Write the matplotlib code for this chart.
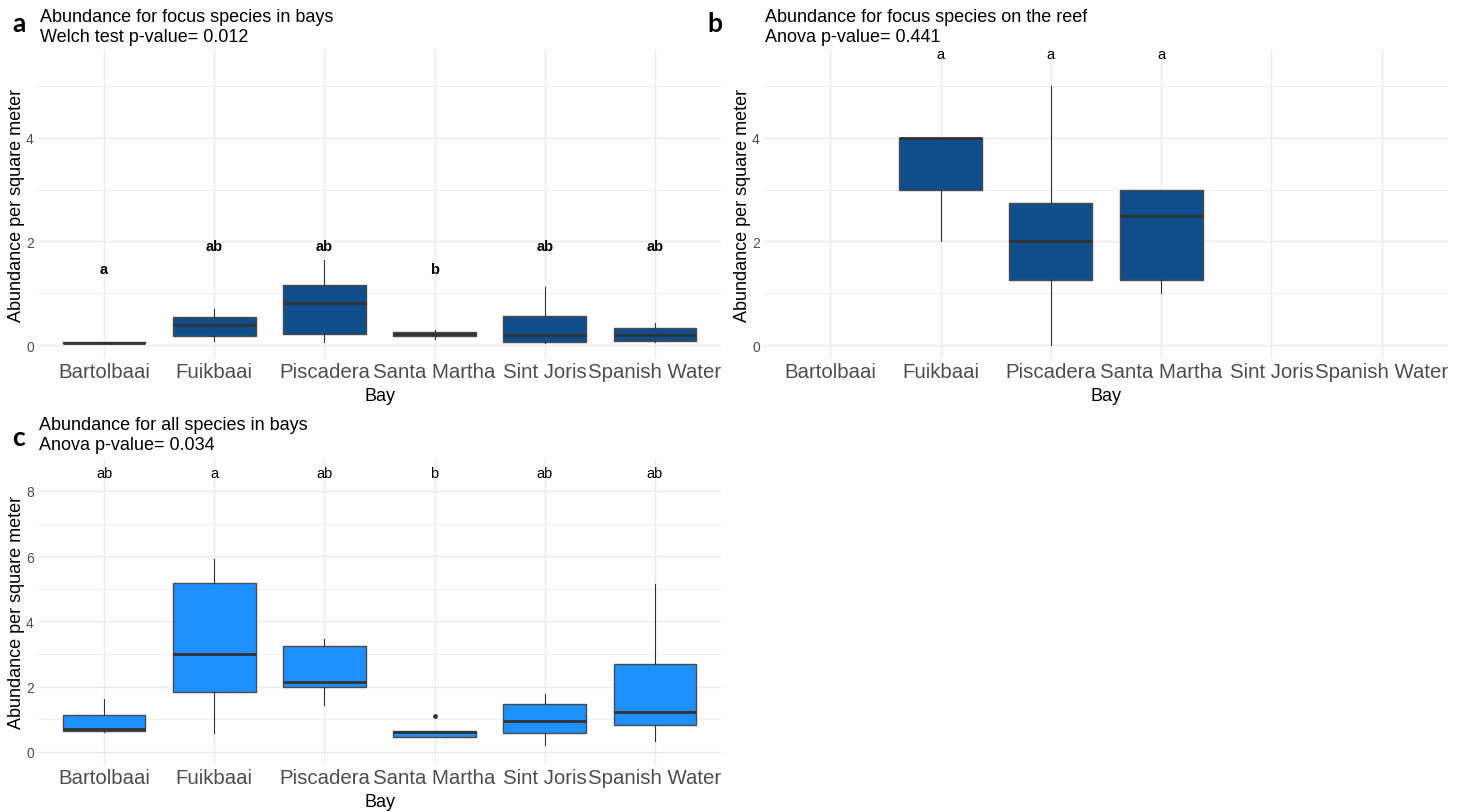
# plot.py
# Abundance boxplots per bay (three panels, ggplot-like look)

import matplotlib
matplotlib.use('Agg')
import matplotlib.pyplot as plt

plt.rcParams['font.family'] = ['Liberation Sans', 'DejaVu Sans']

W, H = 1466, 812

bays = ['Bartolbaai', 'Fuikbaai', 'Piscadera', 'Santa Martha', 'Sint Joris', 'Spanish Water']

# panel a: focus species in bays
a_q1 = [0.03, 0.17, 0.21, 0.17, 0.05, 0.08]
a_med = [0.04, 0.39, 0.81, 0.21, 0.20, 0.20]
a_q3 = [0.05, 0.54, 1.16, 0.25, 0.57, 0.32]
a_lo = [0.03, 0.07, 0.05, 0.12, 0.03, 0.05]
a_hi = [0.05, 0.70, 1.64, 0.29, 1.13, 0.42]
a_letters = ['a', 'ab', 'ab', 'b', 'ab', 'ab']
a_letter_y = [1.47, 1.92, 1.92, 1.47, 1.92, 1.92]

# panel b: focus species on the reef (only three bays sampled)
b_bays = ['Fuikbaai', 'Piscadera', 'Santa Martha']
b_q1 = [3.0, 1.25, 1.25]
b_med = [4.0, 2.0, 2.5]
b_q3 = [4.0, 2.75, 3.0]
b_lo = [2.0, 0.0, 1.0]
b_hi = [4.0, 5.0, 3.0]
b_letters = ['a', 'a', 'a']
b_letter_y = [5.62, 5.62, 5.62]

# panel c: all species in bays
c_q1 = [0.63, 1.84, 2.00, 0.47, 0.58, 0.83]
c_med = [0.72, 2.99, 2.16, 0.60, 0.96, 1.24]
c_q3 = [1.14, 5.17, 3.25, 0.64, 1.47, 2.70]
c_lo = [0.60, 0.57, 1.44, 0.47, 0.22, 0.33]
c_hi = [1.63, 5.90, 3.46, 0.64, 1.78, 5.15]
c_out = [[], [], [], [1.09], [], []]
c_letters = ['ab', 'a', 'ab', 'b', 'ab', 'ab']
c_letter_y = [8.55] * 6


def px_axes(left, top, right, bottom):
    return [left / W, 1 - bottom / H, (right - left) / W, (bottom - top) / H]


def draw_panel(ax, names, q1, med, q3, lo, hi, fill, ylim, major, minor,
               letters, letter_y, bold, outliers=None):
    pos = [bays.index(n) + 1 for n in names]
    stats = []
    for i in range(len(names)):
        stats.append({'med': med[i], 'q1': q1[i], 'q3': q3[i],
                      'whislo': lo[i], 'whishi': hi[i],
                      'fliers': outliers[i] if outliers else []})
    ax.bxp(stats, positions=pos, widths=0.75, patch_artist=True, showcaps=False,
           boxprops=dict(facecolor=fill, edgecolor='#4a4a4a', linewidth=1.0),
           medianprops=dict(color='#333333', linewidth=2.0),
           whiskerprops=dict(color='#333333', linewidth=0.8),
           flierprops=dict(marker='o', markersize=2.5, markerfacecolor='#333333',
                           markeredgecolor='#333333'),
           zorder=3)
    for p, t, y in zip(pos, letters, letter_y):
        ax.text(p, y, t, ha='center', va='center', fontsize=10.5,
                fontweight='bold' if bold else 'normal', color='black',
                clip_on=True, zorder=4)
    ax.set_xlim(0.4, 6.6)
    ax.set_ylim(*ylim)
    ax.set_xticks(range(1, 7))
    ax.set_xticklabels(bays, fontsize=14.7, color='#4d4d4d')
    ax.set_yticks(major)
    ax.set_yticklabels([str(v) for v in major], fontsize=10, color='#4d4d4d')
    ax.set_yticks(minor, minor=True)
    ax.grid(True, which='major', color='#ebebeb', linewidth=1.0, zorder=0)
    ax.grid(True, which='minor', axis='y', color='#ebebeb', linewidth=0.6, zorder=0)
    ax.set_axisbelow(True)
    ax.tick_params(which='both', length=0)
    ax.tick_params(axis='x', pad=3)
    ax.tick_params(axis='y', pad=3)
    for s in ax.spines.values():
        s.set_visible(False)
    ax.set_xlabel('Bay', fontsize=13, labelpad=4)
    ax.set_ylabel('Abundance per square meter', fontsize=13, labelpad=0.5)


fig = plt.figure(figsize=(W / 100, H / 100), dpi=100)

ax_a = fig.add_axes(px_axes(38, 51, 721, 359))
draw_panel(ax_a, bays, a_q1, a_med, a_q3, a_lo, a_hi, '#104E8B',
           (-0.251, 5.70), [0, 2, 4], [1, 3, 5], a_letters, a_letter_y, True)

ax_b = fig.add_axes(px_axes(764, 51, 1448, 359))
draw_panel(ax_b, b_bays, b_q1, b_med, b_q3, b_lo, b_hi, '#104E8B',
           (-0.251, 5.70), [0, 2, 4], [1, 3, 5], b_letters, b_letter_y, False)

ax_c = fig.add_axes(px_axes(38, 460, 721, 765))
draw_panel(ax_c, bays, c_q1, c_med, c_q3, c_lo, c_hi, '#1E90FF',
           (-0.368, 8.98), [0, 2, 4, 6, 8], [1, 3, 5, 7], c_letters, c_letter_y,
           False, outliers=c_out)

# titles
def ftext(x, y, s, **kw):
    fig.text(x / W, 1 - y / H, s, **kw)

ftext(40, 17, 'Abundance for focus species in bays', fontsize=13, va='center')
ftext(40, 38, 'Welch test p-value= 0.012', fontsize=13, va='center')
ftext(765, 17, 'Abundance for focus species on the reef', fontsize=13, va='center')
ftext(765, 38, 'Anova p-value= 0.441', fontsize=13, va='center')
ftext(39, 425, 'Abundance for all species in bays', fontsize=13, va='center')
ftext(39, 446, 'Anova p-value= 0.034', fontsize=13, va='center')

# panel tags
for x, y, s in [(12, 32, 'a'), (707, 32, 'b'), (12, 446, 'c')]:
    fig.text(x / W, 1 - y / H, s, fontsize=19, fontweight='bold',
             family=['Lato', 'DejaVu Sans'], va='baseline', ha='left')

fig.savefig('out.png', dpi=100)
